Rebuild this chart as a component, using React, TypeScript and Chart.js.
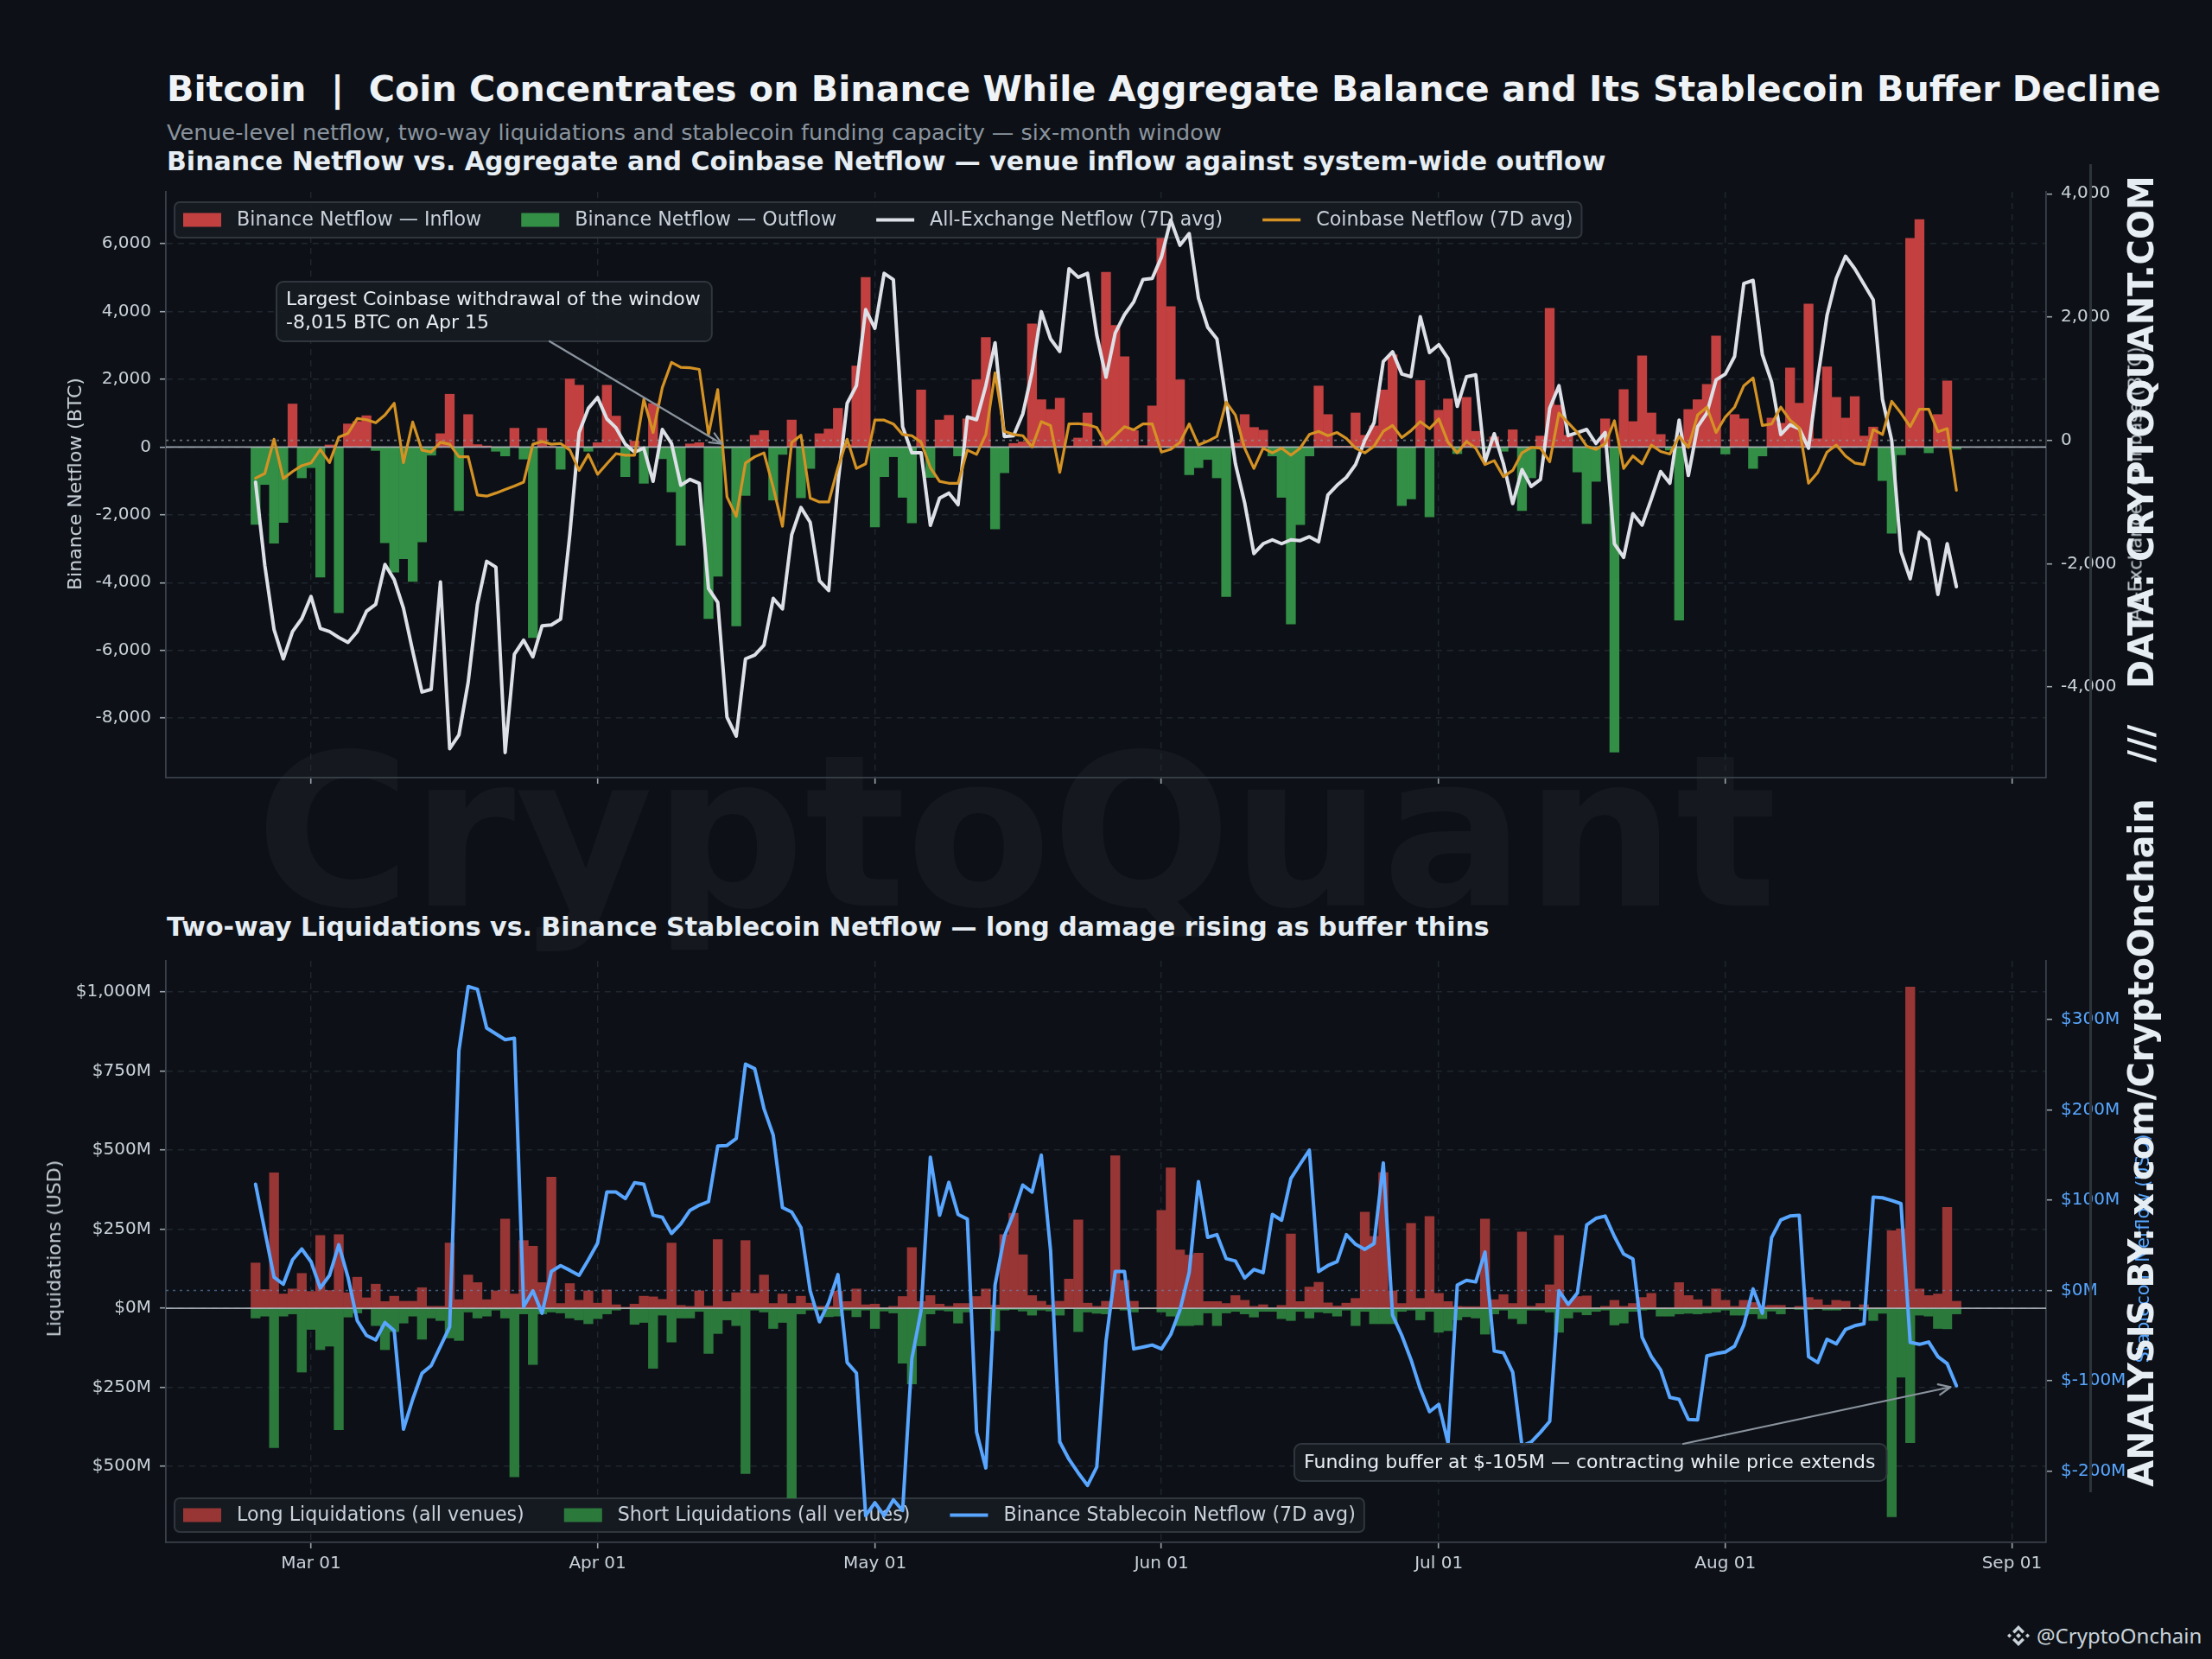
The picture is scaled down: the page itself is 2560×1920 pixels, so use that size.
import React, { useEffect, useRef } from "react";
import { Chart, registerables } from "chart.js";

Chart.register(...registerables);

// ---------------- data (day index 0 = Feb 23) ----------------
const monthTickDays = [6, 37, 67, 98, 128, 159, 190];
const monthTickLabels = ["Mar 01", "Apr 01", "May 01", "Jun 01", "Jul 01", "Aug 01", "Sep 01"];
const netflowLeftTicks = [-8000, -6000, -4000, -2000, 0, 2000, 4000, 6000];
const netflowRightTicks = [-4000, -2000, 0, 2000, 4000];
const liqLeftTicks = [-500, -250, 0, 250, 500, 750, 1000];
const stableRightTicks = [-200, -100, 0, 100, 200, 300];

const binanceNetflow = [
  -2283, -1107, -2836, -2225, 1268, -911, -611, -3840, 60, -4889,
  680, 750, 922, -104, -2825, -3690, -3298, -3966, -2802, -242,
  392, 1557, -1879, 957, 70, 30, -127, -265, 553, -357,
  -5627, 553, 20, -657, 2006, 1822, -127, 127, 1822, 911,
  -876, 173, -1072, 1280, -346, -1326, -2906, 92, 127, -5062,
  -3816, -40, -5281, -1430, 346, 484, -1568, -219, 796, -1499,
  -634, 392, 530, 1141, 60, 2387, 5004, -2364, -876, -288,
  -1487, -2237, 1683, -899, 796, 934, -265, 830, 1983, 3228,
  -2421, -761, 104, 150, 3632, 1395, 1107, 1441, 30, 265,
  1003, 30, 5154, 3586, 2663, 484, 40, 1211, 6157, 4139,
  1983, -819, -611, -369, -911, -4416, 115, 957, 576, 496,
  -265, -1487, -5223, -2294, -265, 1799, 957, 20, 20, 1003,
  346, 623, 1683, 2721, -1730, -1533, 1960, -2064, 1084, 1418,
  -196, 1464, 461, -50, 300, -127, 507, -1879, -911, 323,
  4093, 1234, 346, -738, -2260, -1015, 830, -9005, 1695, 750,
  2686, 1003, 369, -92, -5108, 1107, 1395, 1845, 3275, -208,
  957, 830, -634, -265, 853, 700, 2329, 1291, 4220, 242,
  2364, 1464, 853, 1487, 323, 588, -992, -2548, -231, 6157,
  6711, -173, 957, 1949, -69,
];

const allExchangeNetflow7d = [
  -677, -2026, -3070, -3545, -3102, -2893, -2532, -3051, -3102, -3197,
  -3279, -3102, -2773, -2659, -2013, -2260, -2722, -3418, -4083, -4039,
  -2298, -5001, -4779, -3925, -2659, -1962, -2057, -5064, -3469, -3241,
  -3513, -3007, -2994, -2899, -1519, 127, 519, 696, 348, 203,
  -63, -190, -127, -665, 177, -51, -728, -633, -696, -2405,
  -2627, -4494, -4798, -3545, -3482, -3323, -2564, -2735, -1532, -1089,
  -1329, -2279, -2437, -696, 601, 886, 2121, 1817, 2709, 2608,
  222, -203, -203, -1380, -937, -855, -1044, 380, 335, 886,
  1583, 63, 76, 430, 1108, 2089, 1646, 1443, 2785, 2646,
  2709, 1709, 1025, 1741, 2038, 2247, 2608, 2627, 2975, 3576,
  3165, 3355, 2310, 1836, 1646, 633, -380, -1013, -1836, -1677,
  -1614, -1677, -1614, -1627, -1564, -1646, -886, -728, -601, -392,
  0, 285, 1279, 1437, 1076, 1032, 2007, 1424, 1551, 1329,
  551, 1032, 1063, -348, 108, -380, -1025, -475, -747, -633,
  519, 886, 76, 127, 177, -51, 127, -1677, -1899, -1190,
  -1374, -950, -506, -696, 329, -570, 222, 443, 981, 1076,
  1361, 2545, 2595, 1393, 950, 95, 253, 190, -127, 1013,
  2026, 2627, 2988, 2785, 2532, 2279, 665, 0, -1804, -2247,
  -1488, -1614, -2500, -1677, -2374,
];

const coinbaseNetflow7d = [
  -614, -538, 19, -620, -506, -411, -367, -146, -361, 51,
  114, 354, 335, 285, 411, 601, -361, 298, -158, -190,
  -32, -63, -266, -266, -886, -905, -855, -798, -741, -677,
  -63, -19, -63, -51, -158, -487, -228, -551, -380, -215,
  -241, -241, 665, 127, 855, 1266, 1184, 1177, 1152, 95,
  823, -918, -1234, -367, -266, -203, -760, -1393, -32, 82,
  -937, -1000, -1000, -443, 19, -456, -380, 329, 329, 266,
  95, 76, -32, -443, -665, -696, -696, -158, -228, 95,
  1095, 146, 95, 76, -108, 304, 241, -519, 266, 272,
  253, 209, -63, 76, 222, 171, 266, 266, -190, -146,
  -32, 266, -76, -13, 63, 620, 411, -127, -456, -127,
  -203, -127, -241, -127, 95, 146, 76, 127, 32, -127,
  -203, -95, 146, 241, 44, 158, 304, 190, 348, -32,
  -203, -19, -127, -392, -329, -589, -487, -203, -114, -127,
  -348, 443, 285, 127, -95, -146, -51, 317, -456, -253,
  -380, -76, -180, -222, 63, -114, 411, 538, 127, 380,
  538, 886, 1013, 241, 266, 538, 329, 203, -696, -519,
  -190, -76, -253, -367, -392, 177, 95, 633, 443, 222,
  506, 506, 139, 190, -810,
];

const longLiquidations = [
  143, 59, 428, 45, 61, 110, 53, 230, 56, 233,
  49, 98, 33, 76, 21, 38, 22, 22, 65, 6,
  6, 206, 27, 105, 81, 27, 55, 282, 45, 214,
  196, 81, 414, 15, 78, 25, 55, 16, 58, 11,
  3, 13, 38, 36, 28, 206, 9, 6, 55, 7,
  217, 21, 49, 214, 47, 105, 15, 45, 15, 38,
  16, 6, 6, 54, 21, 61, 11, 13, 2, 6,
  37, 192, 21, 40, 13, 6, 15, 15, 37, 61,
  10, 233, 300, 169, 40, 22, 10, 22, 92, 279,
  16, 6, 22, 482, 88, 22, 2, 2, 309, 444,
  184, 168, 174, 21, 21, 15, 40, 25, 6, 11,
  2, 9, 235, 21, 67, 82, 17, 7, 16, 31,
  304, 227, 429, 55, 15, 268, 31, 290, 47, 21,
  6, 5, 5, 282, 27, 43, 15, 241, 6, 15,
  74, 230, 21, 37, 39, 2, 6, 25, 6, 15,
  34, 47, 2, 2, 81, 40, 27, 6, 61, 25,
  6, 25, 18, 6, 9, 9, 2, 6, 34, 27,
  10, 25, 22, 2, 11, 2, 2, 245, 251, 1015,
  61, 40, 45, 319, 22,
];

const shortLiquidations = [
  -31, -25, -441, -25, -18, -202, -67, -131, -120, -384,
  -28, -15, -3, -55, -131, -74, -47, -25, -98, -31,
  -39, -94, -102, -12, -31, -25, -6, -31, -533, -18,
  -178, -18, -12, -15, -31, -37, -49, -33, -18, -6,
  -2, -51, -45, -190, -22, -107, -31, -31, -10, -143,
  -80, -37, -55, -523, -6, -12, -64, -45, -600, -18,
  -6, -6, -27, -25, -6, -27, -6, -64, -9, -15,
  -174, -239, -119, -18, -6, -9, -47, -12, -2, -2,
  -71, -6, -4, -9, -22, -6, -9, -22, -2, -74,
  -12, -16, -18, -2, -6, -12, -2, -2, -12, -25,
  -55, -55, -53, -15, -55, -15, -10, -18, -28, -10,
  -10, -33, -39, -10, -31, -12, -15, -25, -6, -55,
  -10, -49, -49, -49, -10, -6, -37, -10, -76, -71,
  -37, -27, -31, -82, -18, -6, -33, -49, -6, -6,
  -12, -76, -31, -12, -21, -10, -6, -53, -47, -10,
  -6, -4, -25, -25, -18, -16, -18, -15, -12, -6,
  -22, -22, -18, -33, -9, -18, -2, -4, -4, -2,
  -6, -6, -2, -2, -6, -39, -16, -659, -218, -425,
  -22, -25, -64, -65, -18,
];

const stablecoinNetflow7d = [
  117.6, 66.1, 14.6, 6.9, 33.9, 45.9, 31.8, 2.6, 16.7, 50.6,
  14.6, -33.5, -49.8, -54.9, -35.6, -44.6, -153.7, -120.6, -91.8, -83.3,
  -61.8, -40.3, 265.7, 336.5, 333.5, 290.6, 284.1, 277.7, 279.4, -18.0,
  -0.4, -25.3, 21.0, 27.5, 22.3, 16.7, 33.9, 52.4, 109.0, 109.0,
  101.7, 119.3, 117.6, 83.3, 81.1, 63.1, 73.8, 88.8, 94.4, 98.3,
  160.0, 160.5, 168.2, 250.7, 245.5, 201.3, 172.1, 91.8, 86.7, 69.5,
  -0.4, -34.8, -13.3, 17.6, -79.8, -91.4, -249.4, -235.2, -249.4, -231.8,
  -243.8, -75.5, -21.9, 147.6, 83.3, 119.7, 84.1, 79.0, -157.1, -196.6,
  6.0, 59.7, 85.4, 116.7, 109.0, 149.8, 44.6, -167.8, -187.1, -202.2,
  -215.9, -195.7, -56.2, 21.0, 21.0, -64.8, -62.7, -60.5, -64.8, -48.9,
  -21.9, 20.0, 120.6, 58.8, 61.8, 35.2, 32.6, 13.7, 23.2, 19.7,
  84.1, 77.7, 124.0, 139.9, 155.4, 21.0, 27.5, 31.8, 61.8, 51.1,
  45.5, 51.9, 141.2, -27.5, -49.8, -76.8, -109.0, -134.3, -126.2, -169.1,
  6.0, 11.2, 9.4, 42.5, -67.0, -69.1, -90.6, -172.1, -167.8, -157.1,
  -145.1, -0.4, -15.5, -2.6, 72.5, 79.8, 82.4, 59.7, 40.3, 34.8,
  -51.9, -73.4, -88.0, -118.5, -120.6, -142.9, -143.3, -72.5, -70.0, -68.2,
  -61.8, -38.2, 1.7, -25.3, 58.4, 78.1, 82.4, 83.3, -73.4, -79.8,
  -54.1, -59.2, -43.3, -39.1, -36.9, 103.4, 102.6, 99.6, 96.1, -57.5,
  -59.7, -57.1, -73.4, -81.1, -105.6,
];

const coinbaseAnnotationDay = 51; // Apr 15
const annotation1Lines = ["Largest Coinbase withdrawal of the window", "-8,015 BTC on Apr 15"];
const annotation2Text = "Funding buffer at $-105M \u2014 contracting while price extends";

// ---------------- styling ----------------
const FONT = '"DejaVu Sans", "Liberation Sans", sans-serif';
const BG = "#0d1117";
const GRID = "#20262f";
const SPINE = "#3a4049";
const TICK_MARK = "#9aa2ab";
const TICK_TXT = "#c9d1d9";
const RED1 = "#c24040";
const GREEN1 = "#338e46";
const RED2 = "#983635";
const GREEN2 = "#2c793c";
const WHITE_LINE = "#dde1e7";
const ORANGE_LINE = "#d59224";
const BLUE_LINE = "#58a6ff";

const W = 2560;
const PLOT_L = 192;
const PLOT_R = 2368;
const C1_TOP = 200;
const C1_H = 780;
const P1_TOP = 219;
const P1_BOT = 900;
const C2_TOP = 1090;
const C2_H = 770;
const P2_TOP = 1105;
const P2_BOT = 1785;
const X_MIN = -9.7;
const X_MAX = 193.7;

const days = binanceNetflow.map((_, i) => i);

function roundRectPath(ctx: any, x: number, y: number, w: number, h: number, r: number) {
  ctx.beginPath();
  ctx.moveTo(x + r, y);
  ctx.lineTo(x + w - r, y);
  ctx.arcTo(x + w, y, x + w, y + r, r);
  ctx.lineTo(x + w, y + h - r);
  ctx.arcTo(x + w, y + h, x + w - r, y + h, r);
  ctx.lineTo(x + r, y + h);
  ctx.arcTo(x, y + h, x, y + h - r, r);
  ctx.lineTo(x, y + r);
  ctx.arcTo(x, y, x + r, y, r);
  ctx.closePath();
}

function drawBox(ctx: any, x: number, y: number, w: number, h: number, r: number) {
  roundRectPath(ctx, x, y, w, h, r);
  ctx.fillStyle = "rgba(22,27,34,0.94)";
  ctx.fill();
  ctx.lineWidth = 2;
  ctx.strokeStyle = "#30363d";
  ctx.stroke();
}

type LegendItem = { kind: "rect" | "line"; color: string; label: string; width?: number };

function drawLegend(ctx: any, items: LegendItem[], left: number, top: number, h: number) {
  ctx.save();
  ctx.font = `22.2px ${FONT}`;
  let x = left + 10;
  const parts = items.map((it) => {
    const tw = ctx.measureText(it.label).width;
    const p = { it, x };
    x += 44 + 18 + tw + 46;
    return p;
  });
  const right = x - 46 + 10;
  drawBox(ctx, left, top, right - left, h, 6);
  const cy = top + h / 2;
  parts.forEach(({ it, x: px }) => {
    if (it.kind === "rect") {
      ctx.fillStyle = it.color;
      ctx.fillRect(px, cy - 8, 44, 16);
    } else {
      ctx.strokeStyle = it.color;
      ctx.lineWidth = it.width || 3.5;
      ctx.beginPath();
      ctx.moveTo(px, cy);
      ctx.lineTo(px + 44, cy);
      ctx.stroke();
    }
    ctx.fillStyle = TICK_TXT;
    ctx.textBaseline = "middle";
    ctx.textAlign = "left";
    ctx.fillText(it.label, px + 62, cy + 1);
  });
  ctx.restore();
}

function drawArrow(ctx: any, x1: number, y1: number, tx: number, ty: number, shrink: number) {
  const ang = Math.atan2(ty - y1, tx - x1);
  const x2 = tx - shrink * Math.cos(ang);
  const y2 = ty - shrink * Math.sin(ang);
  ctx.save();
  ctx.strokeStyle = "#8b949e";
  ctx.lineWidth = 2.2;
  ctx.lineCap = "round";
  ctx.lineJoin = "round";
  ctx.beginPath();
  ctx.moveTo(x1, y1);
  ctx.lineTo(x2, y2);
  ctx.stroke();
  const hl = 15;
  const ha = 0.42;
  ctx.beginPath();
  ctx.moveTo(x2 - hl * Math.cos(ang - ha), y2 - hl * Math.sin(ang - ha));
  ctx.lineTo(x2, y2);
  ctx.lineTo(x2 - hl * Math.cos(ang + ha), y2 - hl * Math.sin(ang + ha));
  ctx.stroke();
  ctx.restore();
}

function drawZeroLines(chart: any, dottedColor: string) {
  const { ctx, chartArea: ca, scales } = chart;
  const y0 = scales.y.getPixelForValue(0);
  const y10 = scales.y1.getPixelForValue(0);
  ctx.save();
  ctx.strokeStyle = dottedColor;
  ctx.lineWidth = 1.6;
  ctx.setLineDash([3, 5]);
  ctx.beginPath();
  ctx.moveTo(ca.left, y10);
  ctx.lineTo(ca.right, y10);
  ctx.stroke();
  ctx.setLineDash([]);
  ctx.strokeStyle = "rgba(201,209,217,0.78)";
  ctx.lineWidth = 1.8;
  ctx.beginPath();
  ctx.moveTo(ca.left, y0);
  ctx.lineTo(ca.right, y0);
  ctx.stroke();
  ctx.restore();
}

const legend1Items: LegendItem[] = [
  { kind: "rect", color: RED1, label: "Binance Netflow \u2014 Inflow" },
  { kind: "rect", color: GREEN1, label: "Binance Netflow \u2014 Outflow" },
  { kind: "line", color: WHITE_LINE, label: "All-Exchange Netflow (7D avg)", width: 4.2 },
  { kind: "line", color: ORANGE_LINE, label: "Coinbase Netflow (7D avg)", width: 3.4 },
];
const legend2Items: LegendItem[] = [
  { kind: "rect", color: RED2, label: "Long Liquidations (all venues)" },
  { kind: "rect", color: GREEN2, label: "Short Liquidations (all venues)" },
  { kind: "line", color: BLUE_LINE, label: "Binance Stablecoin Netflow (7D avg)", width: 4.2 },
];

const decor1 = {
  id: "decor1",
  beforeDatasetsDraw(chart: any) {
    const { ctx, chartArea: ca } = chart;
    drawLegend(ctx, legend1Items, ca.left + 10, ca.top + 12, 41);
  },
  afterDatasetDraw(chart: any, args: any) {
    if (args.index === 1) drawZeroLines(chart, "rgba(139,148,158,0.7)");
  },
  afterDatasetsDraw(chart: any) {
    const { ctx, chartArea: ca, scales } = chart;
    ctx.save();
    ctx.font = `22px ${FONT}`;
    const L = ca.left + 128;
    const T = ca.top + 104;
    const w = Math.max(...annotation1Lines.map((s) => ctx.measureText(s).width)) + 24;
    const h = 69;
    drawBox(ctx, L, T, w, h, 8);
    ctx.fillStyle = "#e6edf3";
    ctx.textBaseline = "middle";
    ctx.textAlign = "left";
    ctx.fillText(annotation1Lines[0], L + 11, T + 21);
    ctx.fillText(annotation1Lines[1], L + 11, T + 48);
    ctx.restore();
    const tx = scales.x.getPixelForValue(coinbaseAnnotationDay);
    const ty = scales.y.getPixelForValue(0);
    drawArrow(ctx, L + 316, T + h, tx, ty, 7);
  },
};

const decor2 = {
  id: "decor2",
  beforeDatasetsDraw(chart: any) {
    const { ctx, chartArea: ca } = chart;
    drawLegend(ctx, legend2Items, ca.left + 10, ca.bottom - 12 - 39, 39);
  },
  afterDatasetDraw(chart: any, args: any) {
    if (args.index === 1) drawZeroLines(chart, "rgba(100,140,190,0.6)");
  },
  afterDatasetsDraw(chart: any) {
    const { ctx, chartArea: ca, scales } = chart;
    ctx.save();
    ctx.font = `22px ${FONT}`;
    const L = ca.left + 1306;
    const T = ca.bottom - 114;
    const w = ctx.measureText(annotation2Text).width + 24;
    const h = 43;
    drawBox(ctx, L, T, w, h, 8);
    ctx.fillStyle = "#e6edf3";
    ctx.textBaseline = "middle";
    ctx.textAlign = "left";
    ctx.fillText(annotation2Text, L + 11, T + h / 2 + 1);
    ctx.restore();
    const last = stablecoinNetflow7d.length - 1;
    const tx = scales.x.getPixelForValue(last);
    const ty = scales.y1.getPixelForValue(stablecoinNetflow7d[last]);
    drawArrow(ctx, L + 450, T, tx, ty, 7);
  },
};

const fmtNum = (v: number) => Number(v).toLocaleString("en-US");

function xScale(showLabels: boolean, axisHeight: number) {
  return {
    type: "linear",
    min: X_MIN,
    max: X_MAX,
    bounds: "data",
    offset: false,
    afterBuildTicks: (s: any) => {
      s.ticks = monthTickDays.map((v) => ({ value: v }));
    },
    afterFit: (s: any) => {
      s.height = axisHeight;
    },
    ticks: {
      display: showLabels,
      autoSkip: false,
      maxRotation: 0,
      color: TICK_TXT,
      padding: 6,
      font: { size: 20, family: FONT },
      callback: (v: number) => {
        const i = monthTickDays.indexOf(Math.round(v));
        return i >= 0 ? monthTickLabels[i] : "";
      },
    },
    grid: {
      display: true,
      offset: false,
      drawOnChartArea: true,
      drawTicks: true,
      tickLength: 7,
      color: GRID,
      lineWidth: 1.4,
      tickColor: TICK_MARK,
      tickWidth: 1.6,
    },
    border: { display: true, color: SPINE, width: 1.8, dash: [7, 6] },
  };
}

function yScale(
  position: "left" | "right",
  min: number,
  max: number,
  ticksArr: number[],
  fmt: (v: number) => string,
  color: string,
  gridOn: boolean,
  width: number
) {
  return {
    type: "linear",
    position,
    min,
    max,
    bounds: "data",
    afterBuildTicks: (s: any) => {
      s.ticks = ticksArr.map((v) => ({ value: v }));
    },
    afterFit: (s: any) => {
      s.width = width;
    },
    ticks: {
      color,
      padding: 10,
      font: { size: 20, family: FONT },
      callback: (v: number) => fmt(v),
    },
    grid: {
      display: true,
      drawOnChartArea: gridOn,
      drawTicks: true,
      tickLength: 7,
      color: GRID,
      lineWidth: 1.4,
      tickColor: TICK_MARK,
      tickWidth: 1.6,
    },
    border: { display: true, color: SPINE, width: 1.8, dash: [7, 6] },
  };
}

const commonOptions = {
  responsive: false,
  maintainAspectRatio: false,
  animation: false,
  devicePixelRatio: 1,
  events: [],
  plugins: { legend: { display: false }, tooltip: { enabled: false }, title: { display: false } },
};

function makeConfig1(): any {
  return {
    type: "bar",
    data: {
      datasets: [
        {
          type: "bar",
          label: "Binance Netflow \u2014 Inflow",
          data: days.map((i) => ({ x: i, y: binanceNetflow[i] > 0 ? binanceNetflow[i] : null })),
          backgroundColor: RED1,
          borderWidth: 0,
          grouped: false,
          barPercentage: 1,
          categoryPercentage: 1,
          yAxisID: "y",
          order: 3,
        },
        {
          type: "bar",
          label: "Binance Netflow \u2014 Outflow",
          data: days.map((i) => ({ x: i, y: binanceNetflow[i] < 0 ? binanceNetflow[i] : null })),
          backgroundColor: GREEN1,
          borderWidth: 0,
          grouped: false,
          barPercentage: 1,
          categoryPercentage: 1,
          yAxisID: "y",
          order: 2,
        },
        {
          type: "line",
          label: "All-Exchange Netflow (7D avg)",
          data: days.map((i) => ({ x: i, y: allExchangeNetflow7d[i] })),
          borderColor: WHITE_LINE,
          borderWidth: 4,
          pointRadius: 0,
          tension: 0,
          borderJoinStyle: "round",
          borderCapStyle: "round",
          yAxisID: "y1",
          order: 1,
        },
        {
          type: "line",
          label: "Coinbase Netflow (7D avg)",
          data: days.map((i) => ({ x: i, y: coinbaseNetflow7d[i] })),
          borderColor: ORANGE_LINE,
          borderWidth: 3.2,
          pointRadius: 0,
          tension: 0,
          borderJoinStyle: "round",
          borderCapStyle: "round",
          yAxisID: "y1",
          order: 0,
        },
      ],
    },
    options: {
      ...commonOptions,
      layout: { padding: { left: 0, right: 0, top: P1_TOP - C1_TOP, bottom: 0 }, autoPadding: false },
      scales: {
        x: xScale(false, C1_TOP + C1_H - P1_BOT),
        y: yScale("left", -9756, 7528, netflowLeftTicks, fmtNum, TICK_TXT, true, PLOT_L),
        y1: yScale("right", -5472, 4032, netflowRightTicks, fmtNum, TICK_TXT, false, W - PLOT_R),
      },
    },
    plugins: [decor1],
  };
}

function makeConfig2(): any {
  return {
    type: "bar",
    data: {
      datasets: [
        {
          type: "bar",
          label: "Long Liquidations (all venues)",
          data: days.map((i) => ({ x: i, y: longLiquidations[i] })),
          backgroundColor: RED2,
          borderWidth: 0,
          grouped: false,
          barPercentage: 1,
          categoryPercentage: 1,
          yAxisID: "y",
          order: 3,
        },
        {
          type: "bar",
          label: "Short Liquidations (all venues)",
          data: days.map((i) => ({ x: i, y: shortLiquidations[i] })),
          backgroundColor: GREEN2,
          borderWidth: 0,
          grouped: false,
          barPercentage: 1,
          categoryPercentage: 1,
          yAxisID: "y",
          order: 2,
        },
        {
          type: "line",
          label: "Binance Stablecoin Netflow (7D avg)",
          data: days.map((i) => ({ x: i, y: stablecoinNetflow7d[i] })),
          borderColor: BLUE_LINE,
          borderWidth: 4,
          pointRadius: 0,
          tension: 0,
          borderJoinStyle: "round",
          borderCapStyle: "round",
          yAxisID: "y1",
          order: 0,
        },
      ],
    },
    options: {
      ...commonOptions,
      layout: { padding: { left: 0, right: 0, top: P2_TOP - C2_TOP, bottom: 0 }, autoPadding: false },
      scales: {
        x: xScale(true, C2_TOP + C2_H - P2_BOT),
        y: yScale(
          "left",
          -740,
          1098,
          liqLeftTicks,
          (v) => `$${Math.abs(v).toLocaleString("en-US")}M`,
          TICK_TXT,
          true,
          PLOT_L
        ),
        y1: yScale("right", -279, 365, stableRightTicks, (v) => `$${v}M`, BLUE_LINE, false, W - PLOT_R),
      },
    },
    plugins: [decor2],
  };
}

function Txt(props: { x: number; y: number; size: number; bold?: boolean; color: string; children: any; font?: string }) {
  return (
    <div
      style={{
        position: "absolute",
        left: props.x,
        top: props.y,
        fontSize: props.size,
        lineHeight: 1,
        fontWeight: props.bold ? "bold" : "normal",
        color: props.color,
        whiteSpace: "pre",
        fontFamily: props.font || FONT,
      }}
    >
      {props.children}
    </div>
  );
}

function VTxt(props: { cx: number; cy: number; size: number; bold?: boolean; color: string; children: any; z?: number }) {
  return (
    <div
      style={{
        position: "absolute",
        left: props.cx,
        top: props.cy,
        transform: "translate(-50%, -50%) rotate(-90deg)",
        fontSize: props.size,
        lineHeight: 1,
        fontWeight: props.bold ? "bold" : "normal",
        color: props.color,
        whiteSpace: "pre",
        fontFamily: FONT,
        zIndex: props.z || 2,
      }}
    >
      {props.children}
    </div>
  );
}

export default function App() {
  const ref1 = useRef<HTMLCanvasElement>(null);
  const ref2 = useRef<HTMLCanvasElement>(null);

  useEffect(() => {
    document.body.style.margin = "0";
    document.body.style.background = BG;
    Chart.defaults.font.family = FONT;
    const c1 = new Chart(ref1.current as HTMLCanvasElement, makeConfig1());
    const c2 = new Chart(ref2.current as HTMLCanvasElement, makeConfig2());
    return () => {
      c1.destroy();
      c2.destroy();
    };
  }, []);

  return (
    <div
      style={{
        position: "absolute",
        left: 0,
        top: 0,
        width: W,
        height: 1920,
        background: BG,
        overflow: "hidden",
        fontFamily: FONT,
      }}
    >
      {/* watermark */}
      <div
        style={{
          position: "absolute",
          left: 1176,
          top: 963,
          transform: "translate(-50%, -50%)",
          fontSize: 245,
          fontWeight: "bold",
          lineHeight: 1,
          color: "rgba(255,255,255,0.035)",
          whiteSpace: "nowrap",
          fontFamily: FONT,
          zIndex: 0,
        }}
      >
        CryptoQuant
      </div>

      <canvas
        ref={ref1}
        width={W}
        height={C1_H}
        style={{ position: "absolute", left: 0, top: C1_TOP, width: W, height: C1_H, zIndex: 1 }}
      />
      <canvas
        ref={ref2}
        width={W}
        height={C2_H}
        style={{ position: "absolute", left: 0, top: C2_TOP, width: W, height: C2_H, zIndex: 1 }}
      />

      <Txt x={193} y={83.1} size={41.2} bold color="#f0f3f6">
        {"Bitcoin  |  Coin Concentrates on Binance While Aggregate Balance and Its Stablecoin Buffer Decline"}
      </Txt>
      <Txt x={193} y={141.4} size={25.5} color="#8b949e">
        {"Venue-level netflow, two-way liquidations and stablecoin funding capacity \u2014 six-month window"}
      </Txt>
      <Txt x={193} y={171.6} size={30} bold color="#e6edf3">
        {"Binance Netflow vs. Aggregate and Coinbase Netflow \u2014 venue inflow against system-wide outflow"}
      </Txt>
      <Txt x={193} y={1057.6} size={30} bold color="#e6edf3">
        {"Two-way Liquidations vs. Binance Stablecoin Netflow \u2014 long damage rising as buffer thins"}
      </Txt>

      <VTxt cx={87} cy={(P1_TOP + P1_BOT) / 2} size={22} color={TICK_TXT}>
        Binance Netflow (BTC)
      </VTxt>
      <VTxt cx={63} cy={(P2_TOP + P2_BOT) / 2} size={22} color={TICK_TXT}>
        Liquidations (USD)
      </VTxt>
      <VTxt cx={2472} cy={(P1_TOP + P1_BOT) / 2} size={21} color={TICK_TXT}>
        All-Exchange / Coinbase (BTC)
      </VTxt>
      <VTxt cx={2480} cy={(P2_TOP + P2_BOT) / 2} size={21} color={BLUE_LINE}>
        Stablecoin Netflow (USD)
      </VTxt>

      {/* side banner */}
      <div
        style={{ position: "absolute", left: 2418, top: 190, width: 3, height: 1537, background: "#2d333b", zIndex: 2 }}
      />
      <VTxt cx={2478} cy={962} size={40} bold color="#e6edf3" z={3}>
        {"ANALYSIS BY: x.com/CryptoOnchain   ///   DATA: CRYPTOQUANT.COM"}
      </VTxt>

      {/* signature */}
      <svg
        style={{ position: "absolute", left: 2322, top: 1879, zIndex: 2 }}
        width={28}
        height={28}
        viewBox="0 0 28 28"
      >
        <g fill="#c9d1d9">
          <polygon points="1,14 3.5,11.5 6,14 3.5,16.5" />
          <polygon points="22,14 24.5,11.5 27,14 24.5,16.5" />
          <polygon points="11,14 14,11 17,14 14,17" />
          <polygon points="14,2 21,9 18.5,11.5 14,7 9.5,11.5 7,9" />
          <polygon points="14,26 21,19 18.5,16.5 14,21 9.5,16.5 7,19" />
        </g>
      </svg>
      <div
        style={{
          position: "absolute",
          left: 2357,
          top: 1878,
          fontSize: 24,
          lineHeight: "30px",
          color: "#c9d1d9",
          fontFamily: '"Noto Sans", "Open Sans", sans-serif',
          whiteSpace: "nowrap",
          zIndex: 2,
        }}
      >
        @CryptoOnchain
      </div>
    </div>
  );
}
